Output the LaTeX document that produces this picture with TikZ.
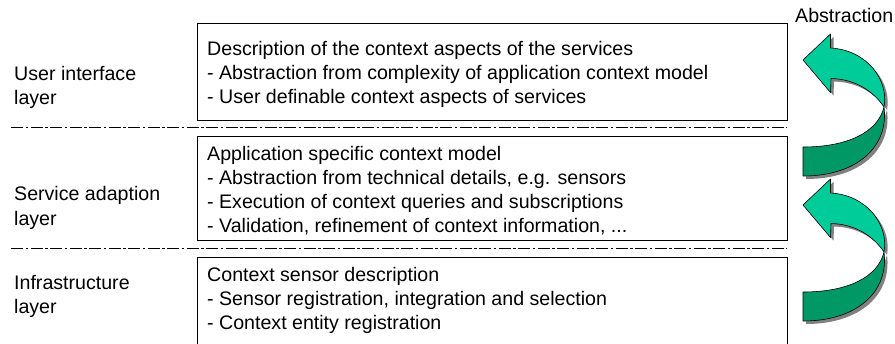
\documentclass[tikz,border=0pt]{standalone}
\usepackage{fontspec}
\setmainfont{Liberation Sans}
\definecolor{lgreen}{HTML}{00CC99}
\definecolor{dgreen}{HTML}{009966}
\definecolor{shadowgray}{HTML}{808080}
\newcommand\absarrowshape[1]{%
  \begin{scope}[shift={(0,#1)}]
    \fill[shadowgray, shift={(3,3)}] (803,60) -- (830.5,34) -- (830.5,48) .. controls (867,50) and (889,80) .. (884,107) .. controls (889,146) and (858,176) .. (803,176) -- (803,147) .. controls (848,147) and (878,132) .. (884,107) .. controls (874,92) and (856,79) .. (831,78.5) -- (830.5,92.5) -- cycle;
    \path[darkpart] (884,107) .. controls (889,146) and (858,176) .. (803,176) -- (803,147) .. controls (848,147) and (878,132) .. (884,107) -- cycle;
    \path[lightpart] (803,60) -- (830.5,34) -- (830.5,48) .. controls (867,50) and (889,80) .. (884,107) .. controls (874,92) and (856,79) .. (831,78.5) -- (830.5,92.5) -- cycle;
  \end{scope}}
\begin{document}
\begin{tikzpicture}[x=1pt,y=-1pt,
  layerbox/.style={draw=black, line width=1.2pt, minimum width=590pt, anchor=north west, inner sep=0pt},
  boxtext/.style={anchor=north west, inner sep=0pt, align=left, font=\fontsize{19.6}{24.1}\selectfont},
  sepline/.style={line width=1pt, dash pattern=on 12pt off 2.5pt on 2.5pt off 2.5pt},
  lightpart/.style={fill=lgreen, draw=black, line width=0.6pt, line join=round},
  darkpart/.style={fill=dgreen, draw=black, line width=0.6pt, line join=round}]
\useasboundingbox (0,0) rectangle (895,343);
\clip (0,0) rectangle (895,343);
% boxes
\node[layerbox, minimum height=96.5pt] (box1) at (197,23) {};
\node[layerbox, minimum height=104pt] (box2) at (197,136) {};
\node[layerbox, minimum height=100pt] (box3) at (197,257) {};
% box texts
\node[boxtext] (t1) at (207,40.8) {Description of the context aspects of the services\\- Abstraction from complexity of application context model\\- User definable context aspects of services};
\node[boxtext] (t2) at (207,145.8) {Application specific context model\\- Abstraction from technical details, e.g. sensors\\- Execution of context queries and subscriptions\\- Validation, refinement of context information, ...};
\node[boxtext] (t3) at (207,266.8) {Context sensor description\\- Sensor registration, integration and selection\\- Context entity registration};
% layer labels
\node[boxtext] (l1) at (14,65.8) {User interface\\layer};
\node[boxtext] (l2) at (14,186.5) {Service adaption\\layer};
\node[boxtext] (l3) at (14,275) {Infrastructure\\layer};
% separators
\coordinate (s1a) at (11,127.5); \coordinate (s1b) at (787,127.5);
\coordinate (s2a) at (11,248.3); \coordinate (s2b) at (787,248.3);
\draw[sepline] (s1a) -- (s1b);
\draw[sepline] (s2a) -- (s2b);
% arrows
\absarrowshape{0}
\absarrowshape{145}
\node[anchor=base west, inner sep=0pt, font=\fontsize{19.6}{24.1}\selectfont] (abs) at (795,22.5) {Abstraction};
\end{tikzpicture}
\end{document}
